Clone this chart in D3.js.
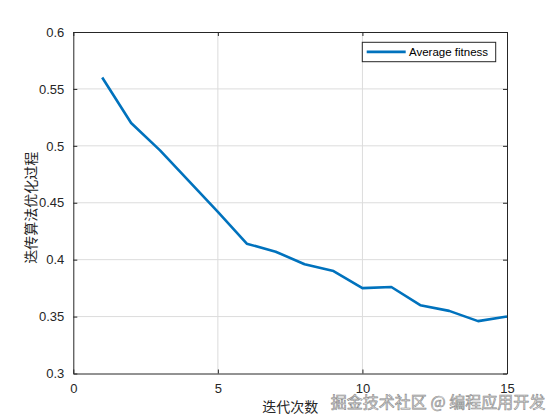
<!DOCTYPE html>
<html>
<head>
<meta charset="utf-8">
<script src="https://cdn.jsdelivr.net/npm/d3@7"></script>
<style>
  body { margin: 0; background: #fff; }
  svg { display: block; font-family: "Liberation Sans", Arial, sans-serif; }
</style>
</head>
<body>
<script>
const iterations = [1, 2, 3, 4, 5, 6, 7, 8, 9, 10, 11, 12, 13, 14, 15]
const avgFitness = [0.560, 0.520, 0.496, 0.469, 0.442, 0.414, 0.407, 0.396, 0.390, 0.375, 0.376, 0.360, 0.355, 0.346, 0.350]
const xTicks = [0, 5, 10, 15]
const yTicks = [0.3, 0.35, 0.4, 0.45, 0.5, 0.55, 0.6]
const seriesName = 'Average fitness'
const xLabel = '迭代次数'
const yLabel = '迭传算法优化过程'
const watermark = '掘金技术社区 @ 编程应用开发'

const width = 560
const height = 420
const margin = { top: 32, right: 53, bottom: 46.5, left: 73.3 }

const svg = d3.select('body').append('svg')
  .attr('width', width)
  .attr('height', height)

const x = d3.scaleLinear().domain([0, 15]).range([margin.left, width - margin.right])
const y = d3.scaleLinear().domain([0.3, 0.6]).range([height - margin.bottom, margin.top])

const grid = svg.append('g')
grid.selectAll('.gx').data(xTicks.slice(1, -1)).enter().append('line')
  .attr('x1', d => x(d)).attr('x2', d => x(d))
  .attr('y1', y(0.3)).attr('y2', y(0.6))
  .attr('stroke', '#dcdcdc').attr('stroke-width', 1)
grid.selectAll('.gy').data(yTicks.slice(1, -1)).enter().append('line')
  .attr('x1', x(0)).attr('x2', x(15))
  .attr('y1', d => y(d)).attr('y2', d => y(d))
  .attr('stroke', '#dcdcdc').attr('stroke-width', 1)

const fmt = d => d3.format('')(+d.toFixed(2))

const xAxis = svg.append('g')
  .attr('transform', `translate(0,${y(0.3)})`)
  .call(d3.axisBottom(x).tickValues(xTicks).tickFormat(fmt).tickSizeInner(-4).tickSizeOuter(0).tickPadding(10))
const xAxisTop = svg.append('g')
  .attr('transform', `translate(0,${y(0.6)})`)
  .call(d3.axisTop(x).tickValues(xTicks).tickFormat('').tickSizeInner(-4).tickSizeOuter(0))
const yAxis = svg.append('g')
  .attr('transform', `translate(${x(0)},0)`)
  .call(d3.axisLeft(y).tickValues(yTicks).tickFormat(fmt).tickSizeInner(-4).tickSizeOuter(0).tickPadding(9))
const yAxisRight = svg.append('g')
  .attr('transform', `translate(${x(15)},0)`)
  .call(d3.axisRight(y).tickValues(yTicks).tickFormat('').tickSizeInner(-4).tickSizeOuter(0))

;[xAxis, xAxisTop, yAxis, yAxisRight].forEach(a => {
  a.select('.domain').attr('stroke', '#262626').attr('stroke-width', 1)
  a.selectAll('.tick line').attr('stroke', '#262626')
  a.selectAll('text').attr('fill', '#262626').style('font-size', '13px')
    .style('font-family', '"Liberation Sans", Arial, sans-serif')
})

const line = d3.line()
  .x((d, i) => x(iterations[i]))
  .y(d => y(d))

svg.append('path')
  .datum(avgFitness)
  .attr('fill', 'none')
  .attr('stroke', '#0072BD')
  .attr('stroke-width', 2.6)
  .attr('stroke-linejoin', 'round')
  .attr('d', line)

// legend
const legend = svg.append('g')
legend.append('rect')
  .attr('x', 362.3).attr('y', 42.3)
  .attr('width', 133.4).attr('height', 19.4)
  .attr('fill', '#fff').attr('stroke', '#262626').attr('stroke-width', 1)
legend.append('line')
  .attr('x1', 366.7).attr('x2', 405.7)
  .attr('y1', 51.9).attr('y2', 51.9)
  .attr('stroke', '#0072BD').attr('stroke-width', 2.6)
legend.append('text')
  .attr('x', 409).attr('y', 56)
  .attr('fill', '#000')
  .style('font-size', '11.5px')
  .text(seriesName)

// axis labels
svg.append('text')
  .attr('x', (x(0) + x(15)) / 2).attr('y', 412)
  .attr('text-anchor', 'middle')
  .attr('fill', '#262626')
  .style('font-family', '"Noto Sans CJK SC", sans-serif')
  .style('font-size', '14px')
  .text(xLabel)

svg.append('text')
  .attr('transform', `translate(36,${(y(0.3) + y(0.6)) / 2 + 5}) rotate(-90)`)
  .attr('text-anchor', 'middle')
  .attr('fill', '#262626')
  .style('font-family', '"Noto Sans CJK SC", sans-serif')
  .style('font-size', '14px')
  .text(yLabel)

// watermark
svg.append('text')
  .attr('x', 438).attr('y', 408)
  .attr('text-anchor', 'middle')
  .attr('fill', '#e6e6e6')
  .attr('stroke', '#8a8a8a')
  .attr('stroke-width', 0.6)
  .style('font-family', '"Noto Sans CJK SC", sans-serif')
  .style('font-size', '16px')
  .text(watermark)
</script>
</body>
</html>
